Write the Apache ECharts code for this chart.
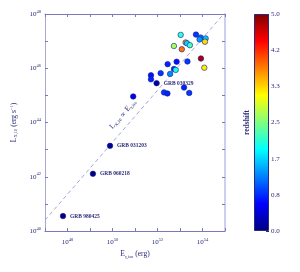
<!DOCTYPE html>
<html><head><meta charset="utf-8">
<script src="https://cdn.jsdelivr.net/npm/echarts@6/dist/echarts.min.js"></script>
<style>html,body{margin:0;padding:0;background:#fff}#c{width:300px;height:272px}</style>
</head><body><div id="c"></div>
<script>
// log10 of E_gamma,iso (erg)
const logE = [47.80,49.13,49.89,50.92,51.96,51.71,51.71,52.14,52.56,52.45,52.73,52.81,52.85,53.33,52.29,52.44,53.18,53.41,53.03,53.71,53.92,53.87,54.14,54.11,53.25,53.31,53.44,52.73,53.08,53.93,54.08];
// log10 of L_X,10 (erg/s)
const logL = [40.55,42.11,43.14,44.96,45.45,45.74,45.59,45.82,45.79,46.15,45.97,45.94,46.24,46.25,45.11,45.07,45.29,45.09,47.23,47.24,47.13,47.06,47.10,46.98,46.95,46.92,46.85,46.82,46.70,46.36,46.02];
const redshift = [0.01,0.03,0.10,0.55,0.17,0.7,0.8,0.9,1.3,0.8,0.9,2.0,0.7,0.9,0.9,0.8,0.8,0.9,2.1,0.9,1.2,1.4,1.6,3.3,3.6,1.7,2.2,2.7,3.8,4.8,3.2];
const names = ['GRB 980425','GRB 060218','GRB 031203','','GRB 030329'];
const fitLogE = [47.0, 54.94];
const fitLogL = [40.40, 48.0];

const jet = ['#00007f','#0000ff','#007fff','#00ffff','#7fff7f','#ffff00','#ff7f00','#ff0000','#7f0000'];
const txt = '#2a2a7a', axc = '#7a7ab8', font = 'Liberation Serif';
const supFmt = v => (Math.round(v) % 2 === 0) ? '{b|10}{s|' + Math.round(v) + '}' : '';
const rich = {b:{fontSize:7,fontFamily:font,color:txt},s:{fontSize:4.5,fontFamily:font,color:txt,verticalAlign:'top',padding:[0,0,5,0]}};

const pts = logE.map((e,i)=>[e,logL[i],redshift[i],names[i]||'']);
const tickCommon = {show:true,inside:true,length:3,lineStyle:{color:axc}};

const chart = echarts.init(document.getElementById('c'),null,{renderer:'canvas'});
chart.setOption({
  animation:false,
  grid:[{left:45,right:75,top:14,bottom:41},{left:254,width:15,top:14,height:217}],
  xAxis:[
    {gridIndex:0,type:'value',min:47,max:55,interval:1,position:'bottom',
     axisLine:{lineStyle:{color:axc}},axisTick:tickCommon,splitLine:{show:false},
     axisLabel:{formatter:supFmt,rich:rich,margin:6},
     name:'{e|E}{sub|γ,iso}{e| (erg)}',nameLocation:'middle',nameGap:18,
     nameTextStyle:{rich:{e:{fontSize:7.5,fontFamily:font,color:txt},sub:{fontSize:4.5,fontFamily:font,color:txt,verticalAlign:'bottom',padding:[4,0,0,0]}}}},
    {gridIndex:0,type:'value',min:47,max:55,interval:1,position:'top',
     axisLine:{lineStyle:{color:axc}},axisTick:tickCommon,axisLabel:{show:false},splitLine:{show:false}},
    {gridIndex:1,type:'category',data:['z'],axisLine:{show:false},axisTick:{show:false},axisLabel:{show:false}}
  ],
  yAxis:[
    {gridIndex:0,type:'value',min:40,max:48,interval:1,position:'left',
     axisLine:{lineStyle:{color:'#a8a8d8'}},axisTick:tickCommon,splitLine:{show:false},
     axisLabel:{formatter:supFmt,rich:rich,margin:4},
     name:'{e|L}{sub|X,10}{e| (erg s}{sup|−1}{e|)}',nameLocation:'middle',nameGap:20,
     nameTextStyle:{rich:{e:{fontSize:7.5,fontFamily:font,color:txt},sub:{fontSize:4.5,fontFamily:font,color:txt,verticalAlign:'bottom',padding:[4,0,0,0]},sup:{fontSize:4.5,fontFamily:font,color:txt,verticalAlign:'top',padding:[0,0,4,0]}}}},
    {gridIndex:0,type:'value',min:40,max:48,interval:1,position:'right',
     axisLine:{lineStyle:{color:'#b8c0e8',width:1.5}},axisTick:tickCommon,axisLabel:{show:false},splitLine:{show:false}},
    {gridIndex:1,type:'value',min:0,max:5,interval:5/6,position:'right',
     axisLine:{show:false},axisTick:{show:true,inside:true,length:3,lineStyle:{color:txt}},
     minorTick:{show:true,splitNumber:2,length:2,lineStyle:{color:txt}},
     splitLine:{show:false},
     axisLabel:{formatter:v=>(Math.round(v*6/5)*5/6).toFixed(1),fontSize:7,fontFamily:font,color:txt,margin:2},
     name:'redshift',nameLocation:'middle',nameGap:-26,nameRotate:90,
     nameTextStyle:{fontSize:7.5,fontFamily:font,color:txt,fontWeight:'bold'}}
  ],
  visualMap:{show:false,type:'continuous',min:0,max:5,dimension:2,seriesIndex:1,inRange:{color:jet}},
  series:[
    {type:'line',xAxisIndex:0,yAxisIndex:0,data:fitLogE.map((e,i)=>[e,fitLogL[i]]),symbol:'none',
     lineStyle:{type:[4,3],color:'#a0a8d8',width:1},z:1},
    {type:'scatter',xAxisIndex:0,yAxisIndex:0,data:pts,symbolSize:5.5,
     itemStyle:{borderColor:'#1a1a90',borderWidth:0.6,opacity:1},
     label:{show:true,position:'right',distance:4,formatter:p=>p.data[3],fontSize:5.5,fontFamily:font,color:txt,fontWeight:'bold'},z:3},
    {type:'bar',xAxisIndex:2,yAxisIndex:2,data:[5],barWidth:'100%',
     itemStyle:{borderColor:'#2a2a7a',borderWidth:1,
       color:new echarts.graphic.LinearGradient(0,1,0,0,jet.map((c,i)=>({offset:i/(jet.length-1),color:c})))}}
  ],
  graphic:[{type:'text',left:108,top:98,rotation:49*Math.PI/180,originX:0,originY:0,
    style:{text:'{e|L}{sub|X,10}{e| ∝ E}{sub|γ,iso}',rich:{e:{fontSize:7.5,fontFamily:font,fill:txt},sub:{fontSize:4.5,fontFamily:font,fill:txt,verticalAlign:'bottom',padding:[4,0,0,0]}}}}]
});
</script></body></html>
